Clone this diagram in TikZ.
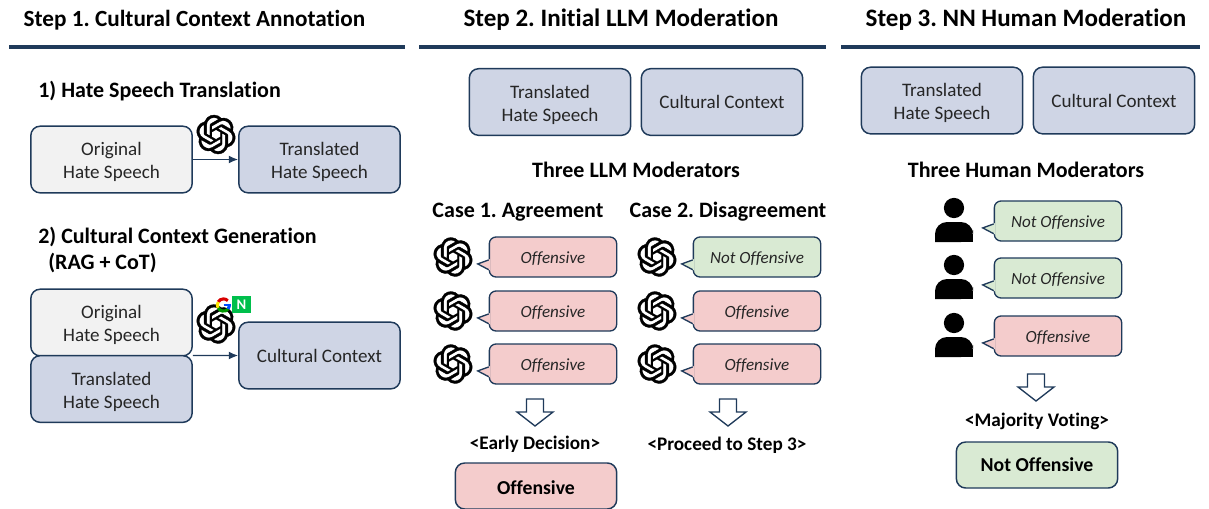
\documentclass[tikz,border=0pt]{standalone}
\usepackage{fontspec}
\setmainfont{Carlito}[Ligatures=NoCommon]
\frenchspacing
\usetikzlibrary{arrows.meta,svg.path}
\definecolor{navy}{HTML}{1F3A5A}
\definecolor{ink}{HTML}{262626}
\definecolor{cgray}{HTML}{F2F2F2}
\definecolor{cblue}{HTML}{CFD5E5}
\definecolor{cpink}{HTML}{F4CCCC}
\definecolor{cgreen}{HTML}{D9EAD3}
\tikzset{
  basebox/.style={draw=navy,line width=1.1pt,rounded corners=7pt,text=ink,align=center,font=\fontsize{14.3}{17.25}\selectfont,minimum width=121pt,minimum height=50pt,inner sep=0pt},
  graybox/.style={basebox,fill=cgray},
  bluebox/.style={basebox,fill=cblue},
  bubblebox/.style={draw=navy,line width=1pt,rounded corners=5pt,text=ink,font=\fontsize{12.8}{15}\selectfont\itshape,minimum width=95.5pt,minimum height=30pt,inner sep=0pt,text height=12pt,text depth=3pt},
  resultbox/.style={basebox,text=black,font=\fontsize{14.8}{17}\selectfont\bfseries,minimum height=34.5pt},
  headtext/.style={font=\fontsize{17.4}{20}\selectfont\bfseries,text=black,inner sep=0pt},
  headbig/.style={font=\fontsize{18.8}{20}\selectfont\bfseries,text=black,inner sep=0pt},
  boldtext/.style={font=\fontsize{16.5}{18}\selectfont\bfseries,text=black,inner sep=0pt},
  smallbold/.style={font=\fontsize{14.4}{16}\selectfont\bfseries,text=black,inner sep=0pt},
  rulebar/.style={draw=navy,line width=2.4pt},
  flow/.style={draw=navy,line width=1pt,-{Latex[length=7pt,width=6pt]}},
  downarrow/.style={draw=navy,line width=1pt,fill=white,line join=miter}
}
\newcommand{\twol}[2]{\rule{0pt}{14pt}#1\\#2}
% OpenAI knot
\newcommand{\knot}[2]{%
  \begin{scope}[shift={(#1,#2)},xscale=1.22,yscale=-1.22,shift={(-12pt,-12pt)}]
    \filldraw[black,even odd rule,line width=0.25pt] (0pt,0pt) svg {M22.2819 9.8211a5.9847 5.9847 0 0 0-.5157-4.9108 6.0462 6.0462 0 0 0-6.5098-2.9A6.0651 6.0651 0 0 0 4.9807 4.1818a5.9847 5.9847 0 0 0-3.9977 2.9 6.0462 6.0462 0 0 0 .7427 7.0966 5.98 5.98 0 0 0 .511 4.9107 6.051 6.051 0 0 0 6.5146 2.9001A5.9847 5.9847 0 0 0 13.2599 24a6.0557 6.0557 0 0 0 5.7718-4.2058 5.9894 5.9894 0 0 0 3.9977-2.9001 6.0557 6.0557 0 0 0-.7475-7.0729zm-9.022 12.6081a4.4755 4.4755 0 0 1-2.8764-1.0408l.1419-.0804 4.7783-2.7582a.7948.7948 0 0 0 .3927-.6813v-6.7369l2.02 1.1686a.071.071 0 0 1 .038.052v5.5826a4.504 4.504 0 0 1-4.4945 4.4944zm-9.6607-4.1254a4.4708 4.4708 0 0 1-.5346-3.0137l.142.0852 4.783 2.7582a.7712.7712 0 0 0 .7806 0l5.8428-3.3685v2.3324a.0804.0804 0 0 1-.0332.0615L9.74 19.9502a4.4992 4.4992 0 0 1-6.1408-1.6464zM2.3408 7.8956a4.485 4.485 0 0 1 2.3655-1.9728V11.6a.7664.7664 0 0 0 .3879.6765l5.8144 3.3543-2.0201 1.1685a.0757.0757 0 0 1-.071 0l-4.8303-2.7865A4.504 4.504 0 0 1 2.3408 7.872zm16.5963 3.8558L13.1038 8.364 15.1192 7.2a.0757.0757 0 0 1 .071 0l4.8303 2.7913a4.4944 4.4944 0 0 1-.6765 8.1042v-5.6772a.79.79 0 0 0-.407-.667zm2.0107-3.0231l-.142-.0852-4.7735-2.7818a.7759.7759 0 0 0-.7854 0L9.409 9.2297V6.8974a.0662.0662 0 0 1 .0284-.0615l4.8303-2.7866a4.4992 4.4992 0 0 1 6.6802 4.66zM8.3065 12.863l-2.02-1.1638a.0804.0804 0 0 1-.038-.0567V6.0742a4.4992 4.4992 0 0 1 7.3757-3.4537l-.142.0805L8.704 5.459a.7948.7948 0 0 0-.3927.6813zM9.4041 10.4976l2.602-1.4998 2.6069 1.4998v2.9994l-2.5974 1.4997-2.6067-1.4997Z};
  \end{scope}}
\newcommand{\bubble}[5]{% name, cx, cy, fill, text
  \node[bubblebox,fill=#4] (#1) at (#2,#3) {#5};
  \fill[#4] ([xshift=1pt,yshift=-1.6pt]#1.west) -- ([xshift=-8.2pt,yshift=-5.2pt]#1.west) -- ([xshift=1pt,yshift=-10pt]#1.west) -- cycle;
  \draw[navy,line width=1pt,line join=miter] ([yshift=-2.2pt]#1.west) -- ([xshift=-8.2pt,yshift=-5.2pt]#1.west) -- ([yshift=-9.5pt]#1.west);}
\newcommand{\dnarrow}[2]{% cx, top y
  \draw[downarrow] (#1-8.5,#2) -- (#1+8.5,#2) -- (#1+8.5,#2+13) -- (#1+18,#2+13) -- (#1,#2+27) -- (#1-18,#2+13) -- (#1-8.5,#2+13) -- cycle;}
\newcommand{\person}[2]{% cx, head cy
  \fill[black] (#1,#2) circle[radius=7.6pt];
  \fill[black,rounded corners=9pt] (#1-19,#2+34) -- (#1-19,#2+14) -- (#1+19,#2+14) -- (#1+19,#2+34) [sharp corners] -- cycle;
  \fill[black] (#1-19,#2+26) rectangle (#1+19,#2+34);}
\begin{document}
\begin{tikzpicture}[x=0.75pt,y=-0.75pt]
\useasboundingbox (0,0) rectangle (1209,508);
\clip (0,0) rectangle (1209,508);
\node[headtext] (h1) at (194.5,20) {Step 1. Cultural Context Annotation};
\node[headbig] (h2) at (621,20) {Step 2. Initial LLM Moderation};
\node[headbig] (h3) at (1026,20) {Step 3. NN Human Moderation};
\draw[rulebar] (9,47) -- (405,47);
\draw[rulebar] (419,47) -- (826,47);
\draw[rulebar] (841,47) -- (1200,47);

% Step 1
\node[boldtext,anchor=west] (s1a) at (38,91) {1) Hate Speech Translation};
\node[graybox] (o1) at (111.5,159.5) {\twol{Original}{Hate Speech}};
\node[bluebox] (t1) at (319.5,159.5) {\twol{Translated}{Hate Speech}};
\draw[flow] (o1) -- (t1);
\knot{216}{134.5}
\node[boldtext,anchor=west] (s1b) at (38,237) {2) Cultural Context Generation};
\node[boldtext,anchor=west] (s1c) at (48,263) {(RAG + CoT)};
\node[graybox] (o2) at (111.5,322.5) {\twol{Original}{Hate Speech}};
\node[bluebox] (t2) at (111.5,389) {\twol{Translated}{Hate Speech}};
\node[bluebox] (c1) at (319.5,355.5) {Cultural Context};
\draw[flow] (o2.south east) ++(0,-1) -- (c1.west);
\knot{216}{324}
% Google + N badges
\coordinate (gc) at (223.5,305);
\draw[line width=2.3pt,color=red!85!black] (gc) ++(150:4.6pt) arc[start angle=150,end angle=45,radius=4.6pt];
\draw[line width=2.3pt,color=yellow!90!orange] (gc) ++(210:4.6pt) arc[start angle=210,end angle=150,radius=4.6pt];
\draw[line width=2.3pt,color=green!60!black] (gc) ++(320:4.6pt) arc[start angle=320,end angle=210,radius=4.6pt];
\draw[line width=2.3pt,color=blue!70!cyan] (gc) ++(0:4.6pt) arc[start angle=0,end angle=-40,radius=4.6pt];
\draw[line width=2pt,color=blue!70!cyan] (gc) -- ++(0:5.6pt);
\fill[green!60!cyan!75!black] (232,296) rectangle (251,313);
\node[text=white,inner sep=0pt,font=\fontsize{11}{11}\selectfont\bfseries] (nb) at (241.5,304.5) {N};

% Step 2
\node[bluebox] (t3) at (550,102) {\twol{Translated}{Hate Speech}};
\node[bluebox] (c2) at (722,102) {Cultural Context};
\node[boldtext] (m2) at (636,170) {Three LLM Moderators};
\node[boldtext] (ca) at (518,212) {Case 1. Agreement};
\node[boldtext] (cb) at (728,212) {Case 2. Disagreement};
\foreach \n/\y in {a/257,b/311,c/364}{
  \knot{453}{\y}
  \bubble{l\n}{553}{\y}{cpink}{Offensive}
}
\knot{657}{257}
\bubble{ra}{757}{257}{cgreen}{Not Offensive}
\foreach \n/\y in {b/311,c/364}{
  \knot{657}{\y}
  \bubble{r\n}{757}{\y}{cpink}{Offensive}
}
\dnarrow{535}{399}
\dnarrow{728}{399}
\node[smallbold] (ed) at (535,444) {<Early Decision>};
\node[smallbold] (pr) at (727,445) {<Proceed to Step 3>};
\node[resultbox,fill=cpink,text height=14pt,text depth=2pt] (r1) at (536,486) {Offensive};

% Step 3
\node[bluebox] (t4) at (942,100.5) {\twol{Translated}{Hate Speech}};
\node[bluebox] (c3) at (1114,100.5) {Cultural Context};
\node[boldtext] (m3) at (1026,170) {Three Human Moderators};
\person{954}{208}
\bubble{ha}{1058}{221}{cgreen}{Not Offensive}
\person{954}{265}
\bubble{hb}{1058}{278}{cgreen}{Not Offensive}
\person{954}{323}
\bubble{hc}{1058}{336}{cpink}{Offensive}
\dnarrow{1036}{374}
\node[smallbold] (mv) at (1037,421) {<Majority Voting>};
\node[resultbox,fill=cgreen,text height=12pt,text depth=3pt] (r2) at (1037,465) {Not Offensive};
\end{tikzpicture}
\end{document}
